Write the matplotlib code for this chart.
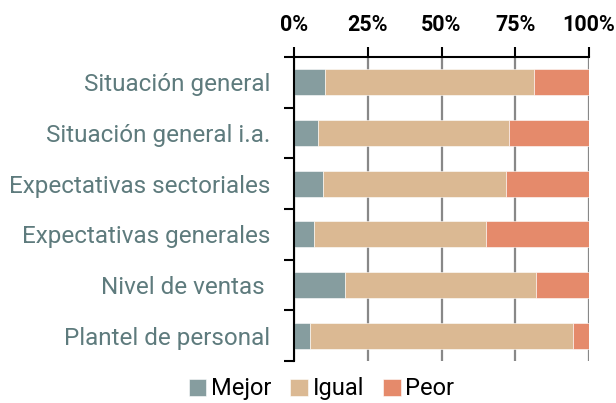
import matplotlib
matplotlib.use('Agg')
import matplotlib.pyplot as plt
import numpy as np

# data (percent)
categories = ['Situación general', 'Situación general i.a.', 'Expectativas sectoriales',
              'Expectativas generales', 'Nivel de ventas ', 'Plantel de personal']
mejor = [10.5, 8.1, 9.9, 6.9, 17.4, 5.5]
igual = [70.9, 64.8, 62.0, 58.2, 64.6, 89.1]
peor = [18.6, 27.1, 28.1, 34.9, 18.0, 5.4]
series_names = ['Mejor', 'Igual', 'Peor']
colors = ['#869D9F', '#DBB993', '#E58A6B']

plt.rcParams['font.family'] = ['Roboto', 'DejaVu Sans']

fig = plt.figure(figsize=(6.16, 4.03), dpi=100)
ax = fig.add_axes([294/616, 1 - 361/403, 295/616, 304/403])

y = np.arange(len(categories))
left = np.zeros(len(categories))
for vals, name, col in zip([mejor, igual, peor], series_names, colors):
    ax.barh(y, vals, left=left, height=0.51, color=col, label=name,
            edgecolor='white', linewidth=0.4, zorder=2)
    left += np.array(vals)

ax.set_xlim(0, 100)
ax.set_ylim(len(categories) - 0.5, -0.5)
ax.xaxis.tick_top()
ax.set_xticks([0, 25, 50, 75, 100])
ax.set_xticklabels(['0%', '25%', '50%', '75%', '100%'], fontsize=15.5, fontweight='bold')
ax.tick_params(axis='x', length=7, width=1.5, pad=8, colors='black')
ax.grid(axis='x', color='#888888', linewidth=1.6, zorder=0)

ax.set_yticks(y)
ax.set_yticklabels(categories, fontsize=17.5, color='#5E7B7D')
ax.tick_params(axis='y', length=0, pad=17)
ax.set_yticks(np.arange(-0.5, len(categories)), minor=True)
ax.tick_params(axis='y', which='minor', length=7, width=1.5)

for s in ['right', 'bottom']:
    ax.spines[s].set_visible(False)
for s in ['left', 'top']:
    ax.spines[s].set_linewidth(1.5)

fig.legend(loc='center', bbox_to_anchor=(0.522, 0.035), ncol=3, frameon=False,
           fontsize=17, handlelength=0.75, handleheight=0.75, handletextpad=0.2,
           columnspacing=0.8)

fig.savefig('out.png', dpi=100)
